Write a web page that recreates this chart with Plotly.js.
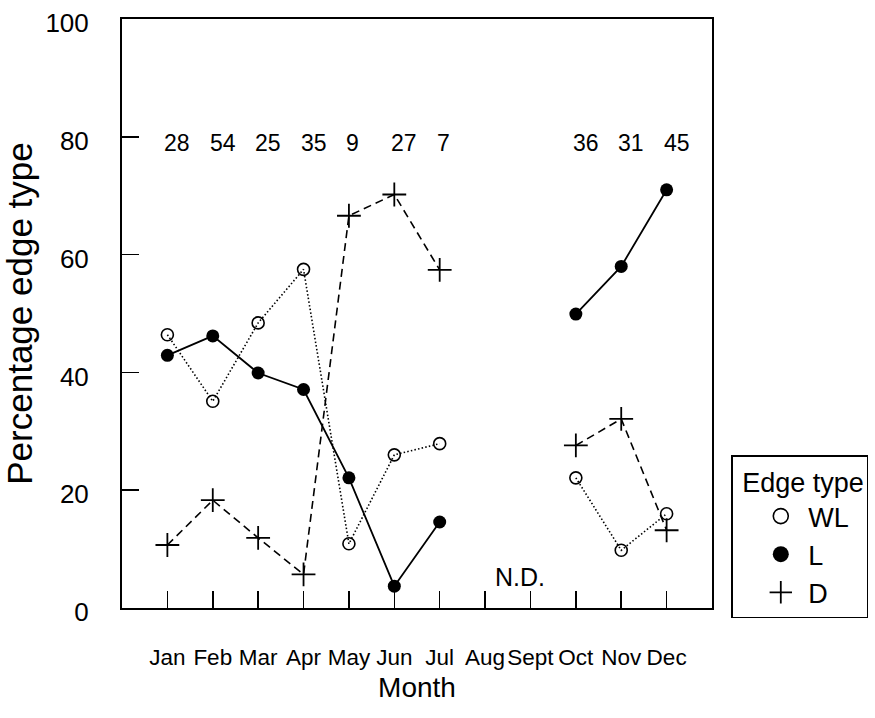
<!DOCTYPE html>
<html>
<head>
<meta charset="utf-8">
<script src="https://cdn.plot.ly/plotly-3.0.1.min.js"></script>
<style>html,body{margin:0;padding:0;background:#fff;}#chart{width:875px;height:718px;}</style>
</head>
<body>
<div id="chart"></div>
<script>
// ---- data ----
const months = ['Jan','Feb','Mar','Apr','May','Jun','Jul','Aug','Sept','Oct','Nov','Dec'];
const monthIndex = [1,2,3,4,5,6,7,8,9,10,11,12];
const wlValues = [46.4, 35.1, 48.4, 57.5, 10.9, 26.0, 27.9, null, null, 22.1, 9.8, 16.0];
const lValues  = [42.9, 46.2, 39.9, 37.1, 22.1, 3.7, 14.6, null, null, 49.9, 58.0, 71.0];
const dValues  = [10.7, 18.3, 11.9, 5.7, 66.6, 70.2, 57.4, null, null, 27.6, 32.1, 13.2];
const sampleSizes = [28, 54, 25, 35, 9, 27, 7, null, null, 36, 31, 45];
const sampleSizeLevel = 80;
const noDataLabel = 'N.D.';
const noDataPos = {x: 8.78, y: 5.3};
const yTicks = [0, 20, 40, 60, 80, 100];
const legendNames = ['WL', 'L', 'D'];

const FONT = 'Liberation Sans, Arial, sans-serif';
const SP = '&nbsp;';

const traces = [
  {x: monthIndex, y: wlValues, name: 'WL', mode: 'lines+markers', showlegend: false,
   line: {color: '#000', width: 1.6, dash: '1.5px,2.2px'},
   marker: {symbol: 'circle-open', size: 12, color: '#000', line: {width: 1.6, color: '#000'}}},
  {x: monthIndex, y: lValues, name: 'L', mode: 'lines+markers', showlegend: false,
   line: {color: '#000', width: 1.8},
   marker: {symbol: 'circle', size: 13, color: '#000'}},
  {x: monthIndex, y: dValues, name: 'D', mode: 'lines+markers', showlegend: false,
   line: {color: '#000', width: 1.6, dash: '8px,5px'},
   marker: {symbol: 'cross-thin-open', size: 17, color: '#000', line: {width: 1.8, color: '#000'}}},
  // legend entries (markers only)
  {x: [null], y: [null], name: SP + legendNames[0], mode: 'markers', showlegend: true,
   marker: {symbol: 'circle-open', size: 15, color: '#000', line: {width: 1.6, color: '#000'}}},
  {x: [null], y: [null], name: SP + legendNames[1], mode: 'markers', showlegend: true,
   marker: {symbol: 'circle', size: 17, color: '#000'}},
  {x: [null], y: [null], name: SP + legendNames[2], mode: 'markers', showlegend: true,
   marker: {symbol: 'cross-thin-open', size: 21, color: '#000', line: {width: 1.8, color: '#000'}}}
];

const annotations = [];
monthIndex.forEach((m, i) => {
  if (sampleSizes[i] !== null) {
    annotations.push({x: m, y: sampleSizeLevel, xref: 'x', yref: 'y', text: String(sampleSizes[i]),
      showarrow: false, xanchor: 'left', yanchor: 'middle', xshift: -5, yshift: -6,
      font: {family: FONT, size: 23, color: '#000'}});
  }
});
annotations.push({x: noDataPos.x, y: noDataPos.y, xref: 'x', yref: 'y', text: noDataLabel,
  showarrow: false, xanchor: 'center', yanchor: 'middle',
  font: {family: FONT, size: 25, color: '#000'}});

const layout = {
  width: 875, height: 718,
  margin: {l: 122, r: 163, t: 19, b: 110, autoexpand: false},
  paper_bgcolor: '#fff', plot_bgcolor: '#fff',
  font: {family: FONT, color: '#000'},
  showlegend: true,
  xaxis: {
    range: [0, 13], tickvals: monthIndex, ticktext: months, tickangle: 0,
    ticks: 'inside', ticklen: 17, tickwidth: 1.6, tickcolor: '#000',
    showline: true, linewidth: 2, linecolor: '#000', mirror: true,
    showgrid: false, zeroline: false, automargin: false,
    tickfont: {family: FONT, size: 22.5, color: '#000'},
    ticklabelstandoff: 28,
    title: {text: 'Month', font: {family: FONT, size: 28, color: '#000'}, standoff: 8}
  },
  yaxis: {
    range: [0, 100], tickvals: yTicks,
    ticks: 'inside', ticklen: 17, tickwidth: 1.6, tickcolor: '#000',
    showline: true, linewidth: 2, linecolor: '#000', mirror: true,
    showgrid: false, zeroline: false, automargin: false,
    tickfont: {family: FONT, size: 26, color: '#000'},
    ticklabelstandoff: 26, ticklabelshift: 4,
    title: {text: 'Percentage edge type', font: {family: FONT, size: 35, color: '#000'}, standoff: 2}
  },
  legend: {
    x: 1.0327, y: 0.259, xanchor: 'left', yanchor: 'top',
    bordercolor: '#000', borderwidth: 1.5, bgcolor: '#fff',
    font: {family: FONT, size: 27, color: '#000'},
    title: {text: SP + 'Edge type', font: {family: FONT, size: 27, color: '#000'}},
    indentation: 28
  },
  annotations: annotations
};

Plotly.newPlot('chart', traces, layout, {displayModeBar: false, staticPlot: true});
</script>
</body>
</html>
